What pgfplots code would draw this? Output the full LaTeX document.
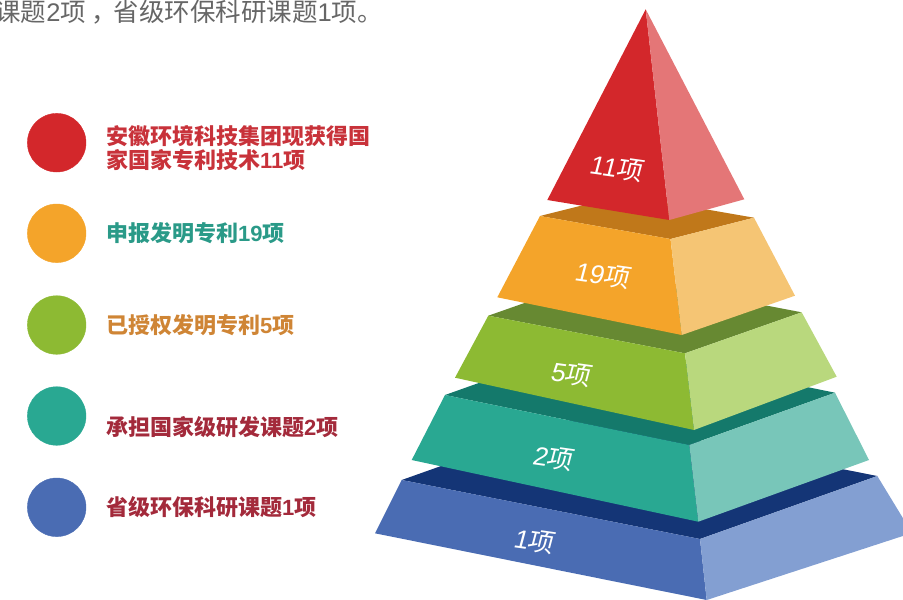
\documentclass[border=0pt]{standalone}
\usepackage{fontspec}
\usepackage{pgfplots}
\pgfplotsset{compat=1.18}
\newfontfamily\cjk{Noto Sans CJK SC}
\newfontfamily\cjksl[FakeSlant=0.12]{Noto Sans CJK SC}
\newfontfamily\lat{Liberation Sans}
\newfontfamily\latsl[FakeSlant=0.12]{Liberation Sans}
\newcommand{\n}[1]{{\lat #1}}
\newcommand{\ns}[1]{{\latsl #1}}

\definecolor{redL}{HTML}{D3272B}
\definecolor{redR}{HTML}{E47677}
\definecolor{orgT}{HTML}{C0781A}
\definecolor{orgL}{HTML}{F4A42A}
\definecolor{orgR}{HTML}{F5C574}
\definecolor{grnT}{HTML}{678932}
\definecolor{grnL}{HTML}{8DBA33}
\definecolor{grnR}{HTML}{B9D87D}
\definecolor{tealT}{HTML}{14796B}
\definecolor{tealL}{HTML}{29A892}
\definecolor{tealR}{HTML}{78C6B9}
\definecolor{bluT}{HTML}{143576}
\definecolor{bluL}{HTML}{4A6CB3}
\definecolor{bluR}{HTML}{839FD2}
\definecolor{txtRed}{HTML}{C8323A}
\definecolor{txtTeal}{HTML}{2A9A88}
\definecolor{txtOrg}{HTML}{CF8535}
\definecolor{txtDark}{HTML}{A32A3B}

\begin{document}
\begin{tikzpicture}
\begin{axis}[width=903pt, height=600pt, scale only axis,
  xmin=0, xmax=903, ymin=0, ymax=600, y dir=reverse,
  hide axis, clip=true]

% layer 1 (bottom, blue)
\addplot[fill=bluT, draw=none] coordinates {(401.7,480) (579,417) (877.3,476) (700,539)} -- cycle;
\addplot[fill=bluL, draw=none] coordinates {(401.7,480) (700,539) (706.7,600) (375,533.3)} -- cycle;
\addplot[fill=bluR, draw=none] coordinates {(700,539) (877.3,476) (912,533) (706.7,600)} -- cycle;

% layer 2 (teal)
\addplot[fill=tealT, draw=none] coordinates {(445,395) (591,343) (835,392.7) (689.3,445)} -- cycle;
\addplot[fill=tealL, draw=none] coordinates {(445,395) (689.3,445) (698.3,521.7) (411.7,460)} -- cycle;
\addplot[fill=tealR, draw=none] coordinates {(689.3,445) (835,392.7) (869,460) (698.3,521.7)} -- cycle;

% layer 3 (green)
\addplot[fill=grnT, draw=none] coordinates {(488.3,315.7) (605,274.7) (801.7,312.3) (685,353.3)} -- cycle;
\addplot[fill=grnL, draw=none] coordinates {(488.3,315.7) (685,353.3) (694,430) (455,377.7)} -- cycle;
\addplot[fill=grnR, draw=none] coordinates {(685,353.3) (801.7,312.3) (836.7,376.7) (694,430)} -- cycle;

% layer 4 (orange)
\addplot[fill=orgT, draw=none] coordinates {(540,216) (623.5,195) (754,217.7) (670.5,239)} -- cycle;
\addplot[fill=orgL, draw=none] coordinates {(540,216) (670.5,239) (681.7,335) (497.3,297.3)} -- cycle;
\addplot[fill=orgR, draw=none] coordinates {(670.5,239) (754,217.7) (795,295.7) (681.7,335)} -- cycle;

% layer 5 (top, red)
\addplot[fill=redL, draw=none] coordinates {(645.7,9.3) (669.3,220) (547.3,200)} -- cycle;
\addplot[fill=redR, draw=none] coordinates {(645.7,9.3) (744.3,199.3) (669.3,220)} -- cycle;

% legend dots
\addplot[only marks, mark=*, mark size=29.3pt, color=redL] coordinates {(56.7,142.7)};
\addplot[only marks, mark=*, mark size=29.3pt, color=orgL] coordinates {(56.7,233.3)};
\addplot[only marks, mark=*, mark size=29.3pt, color=grnL] coordinates {(56.7,325)};
\addplot[only marks, mark=*, mark size=29.3pt, color=tealL] coordinates {(56.7,416)};
\addplot[only marks, mark=*, mark size=29.3pt, color=bluL] coordinates {(56.7,507.3)};

% pyramid labels
\node[white, rotate=-8, font=\cjksl\fontsize{26}{28}\selectfont] at (axis cs:616,168) {\ns{11}项};
\node[white, rotate=-8, font=\cjksl\fontsize{26}{28}\selectfont] at (axis cs:602,275) {\ns{19}项};
\node[white, rotate=-8, font=\cjksl\fontsize{26}{28}\selectfont] at (axis cs:571,374) {\ns{5}项};
\node[white, rotate=-8, font=\cjksl\fontsize{26}{28}\selectfont] at (axis cs:553,458) {\ns{2}项};
\node[white, rotate=-8, font=\cjksl\fontsize{26}{28}\selectfont] at (axis cs:534,541) {\ns{1}项};

% legend texts
\node[anchor=west, text=txtRed, font=\cjk\bfseries\fontsize{22}{24}\selectfont, align=left, inner sep=0pt]
  at (axis cs:106,148) {安徽环境科技集团现获得国\\家国家专利技术{\bfseries\n{11}}项};
\node[anchor=west, text=txtTeal, font=\cjk\bfseries\fontsize{22}{24}\selectfont, inner sep=0pt]
  at (axis cs:106,233.3) {申报发明专利{\bfseries\n{19}}项};
\node[anchor=west, text=txtOrg, font=\cjk\bfseries\fontsize{22}{24}\selectfont, inner sep=0pt]
  at (axis cs:106,325) {已授权发明专利{\bfseries\n{5}}项};
\node[anchor=west, text=txtDark, font=\cjk\bfseries\fontsize{22}{24}\selectfont, inner sep=0pt]
  at (axis cs:106,426.7) {承担国家级研发课题{\bfseries\n{2}}项};
\node[anchor=west, text=txtDark, font=\cjk\bfseries\fontsize{22}{24}\selectfont, inner sep=0pt]
  at (axis cs:106,507) {省级环保科研课题{\bfseries\n{1}}项};

% cut-off heading text
\node[anchor=east, text=black!60, font=\cjk\fontsize{25.5}{27}\selectfont, inner sep=0pt]
  at (axis cs:383,12) {课题\n{2}项\hspace{5pt}，\hspace{-3pt}省级环保科研课题\n{1}项。};
\end{axis}
\pgfresetboundingbox
\useasboundingbox (current axis.south west) rectangle (current axis.north east);
\end{tikzpicture}
\end{document}
